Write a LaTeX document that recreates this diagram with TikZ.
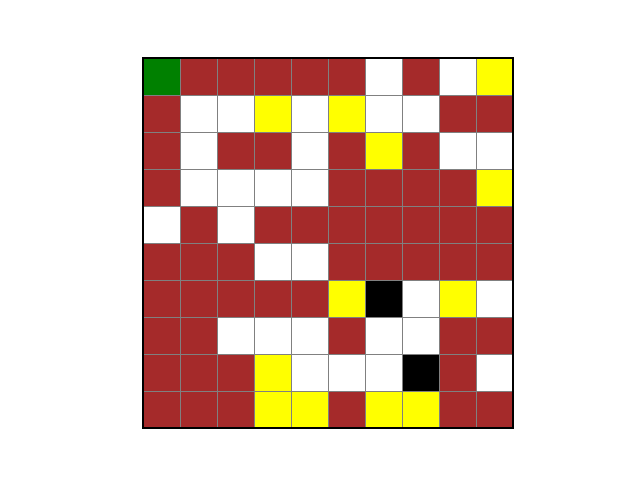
\documentclass[tikz,border=0pt]{standalone}
\definecolor{cb}{HTML}{A52A2A}
\definecolor{cg}{HTML}{008000}
\definecolor{cy}{HTML}{FFFF00}
\definecolor{cw}{HTML}{FFFFFF}
\definecolor{ck}{HTML}{000000}
\definecolor{gridgray}{HTML}{808080}
\begin{document}
\begin{tikzpicture}[x=0.75pt,y=-0.75pt,
  cell/.style={draw=gridgray,line width=0.75pt},
  frame/.style={draw=black,line width=0.8pt}]
\useasboundingbox (0,0) rectangle (640,480);
\fill[white] (0,0) rectangle (640,480);
\foreach \row/\cols in {
  0/{cg,cb,cb,cb,cb,cb,cw,cb,cw,cy},
  1/{cb,cw,cw,cy,cw,cy,cw,cw,cb,cb},
  2/{cb,cw,cb,cb,cw,cb,cy,cb,cw,cw},
  3/{cb,cw,cw,cw,cw,cb,cb,cb,cb,cy},
  4/{cw,cb,cw,cb,cb,cb,cb,cb,cb,cb},
  5/{cb,cb,cb,cw,cw,cb,cb,cb,cb,cb},
  6/{cb,cb,cb,cb,cb,cy,ck,cw,cy,cw},
  7/{cb,cb,cw,cw,cw,cb,cw,cw,cb,cb},
  8/{cb,cb,cb,cy,cw,cw,cw,ck,cb,cw},
  9/{cb,cb,cb,cy,cy,cb,cy,cy,cb,cb}} {
  \foreach \c [count=\i from 0] in \cols {
    \path[cell,fill=\c] ({143+37*\i},{58+37*\row}) rectangle ++(37,37);
  }
}
\draw[frame] (143,58) rectangle (513,428);
\end{tikzpicture}
\end{document}
